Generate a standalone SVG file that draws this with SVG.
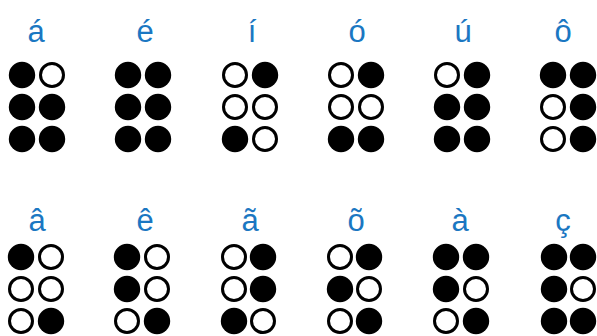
<svg xmlns="http://www.w3.org/2000/svg" width="597" height="336" viewBox="0 0 597 336">
<style>
.lbl{font-family:"Liberation Sans",Arial,sans-serif;font-size:31px;fill:#1b77c2;text-anchor:middle}
.f{fill:#000}
.o{fill:#fff;stroke:#000;stroke-width:3}
</style>
<defs>
<circle id="F" r="13.2" class="f"/>
<circle id="O" r="11.5" class="o"/>
</defs>
<rect width="597" height="336" fill="#fff"/>
<g id="cell-a-acute">
<text class="lbl" x="36" y="42">á</text>
<use href="#F" x="22" y="75"/><use href="#O" x="52" y="75"/>
<use href="#F" x="22" y="107"/><use href="#F" x="52" y="107"/>
<use href="#F" x="22" y="139"/><use href="#F" x="52" y="139"/>
</g>
<g id="cell-e-acute">
<text class="lbl" x="145" y="42">é</text>
<use href="#F" x="128" y="75"/><use href="#F" x="158" y="75"/>
<use href="#F" x="128" y="107"/><use href="#F" x="158" y="107"/>
<use href="#F" x="128" y="139"/><use href="#F" x="158" y="139"/>
</g>
<g id="cell-i-acute">
<text class="lbl" x="252" y="42">í</text>
<use href="#O" x="235" y="75"/><use href="#F" x="265" y="75"/>
<use href="#O" x="235" y="107"/><use href="#O" x="265" y="107"/>
<use href="#F" x="235" y="139"/><use href="#O" x="265" y="139"/>
</g>
<g id="cell-o-acute">
<text class="lbl" x="357" y="42">ó</text>
<use href="#O" x="341" y="75"/><use href="#F" x="371" y="75"/>
<use href="#O" x="341" y="107"/><use href="#O" x="371" y="107"/>
<use href="#F" x="341" y="139"/><use href="#F" x="371" y="139"/>
</g>
<g id="cell-u-acute">
<text class="lbl" x="463" y="42">ú</text>
<use href="#O" x="447" y="75"/><use href="#F" x="477" y="75"/>
<use href="#F" x="447" y="107"/><use href="#F" x="477" y="107"/>
<use href="#F" x="447" y="139"/><use href="#F" x="477" y="139"/>
</g>
<g id="cell-o-circ">
<text class="lbl" x="563" y="42">ô</text>
<use href="#F" x="553" y="75"/><use href="#F" x="583" y="75"/>
<use href="#O" x="553" y="107"/><use href="#F" x="583" y="107"/>
<use href="#O" x="553" y="139"/><use href="#F" x="583" y="139"/>
</g>
<g id="cell-a-circ">
<text class="lbl" x="37" y="231">â</text>
<use href="#F" x="21" y="257"/><use href="#O" x="51" y="257"/>
<use href="#O" x="21" y="289"/><use href="#O" x="51" y="289"/>
<use href="#O" x="21" y="321"/><use href="#F" x="51" y="321"/>
</g>
<g id="cell-e-circ">
<text class="lbl" x="145" y="231">ê</text>
<use href="#F" x="127" y="257"/><use href="#O" x="157" y="257"/>
<use href="#F" x="127" y="289"/><use href="#O" x="157" y="289"/>
<use href="#O" x="127" y="321"/><use href="#F" x="157" y="321"/>
</g>
<g id="cell-a-tilde">
<text class="lbl" x="250" y="231">ã</text>
<use href="#O" x="234" y="257"/><use href="#F" x="263" y="257"/>
<use href="#O" x="234" y="289"/><use href="#F" x="263" y="289"/>
<use href="#F" x="234" y="321"/><use href="#O" x="263" y="321"/>
</g>
<g id="cell-o-tilde">
<text class="lbl" x="356" y="231">õ</text>
<use href="#O" x="340" y="257"/><use href="#F" x="369" y="257"/>
<use href="#F" x="340" y="289"/><use href="#O" x="369" y="289"/>
<use href="#O" x="340" y="321"/><use href="#F" x="369" y="321"/>
</g>
<g id="cell-a-grave">
<text class="lbl" x="460" y="231">à</text>
<use href="#F" x="446" y="257"/><use href="#F" x="476" y="257"/>
<use href="#F" x="446" y="289"/><use href="#O" x="476" y="289"/>
<use href="#O" x="446" y="321"/><use href="#F" x="476" y="321"/>
</g>
<g id="cell-c-cedil">
<text class="lbl" x="563" y="231">ç</text>
<use href="#F" x="554" y="257"/><use href="#F" x="583" y="257"/>
<use href="#F" x="554" y="289"/><use href="#O" x="583" y="289"/>
<use href="#F" x="554" y="321"/><use href="#F" x="583" y="321"/>
</g>
</svg>
